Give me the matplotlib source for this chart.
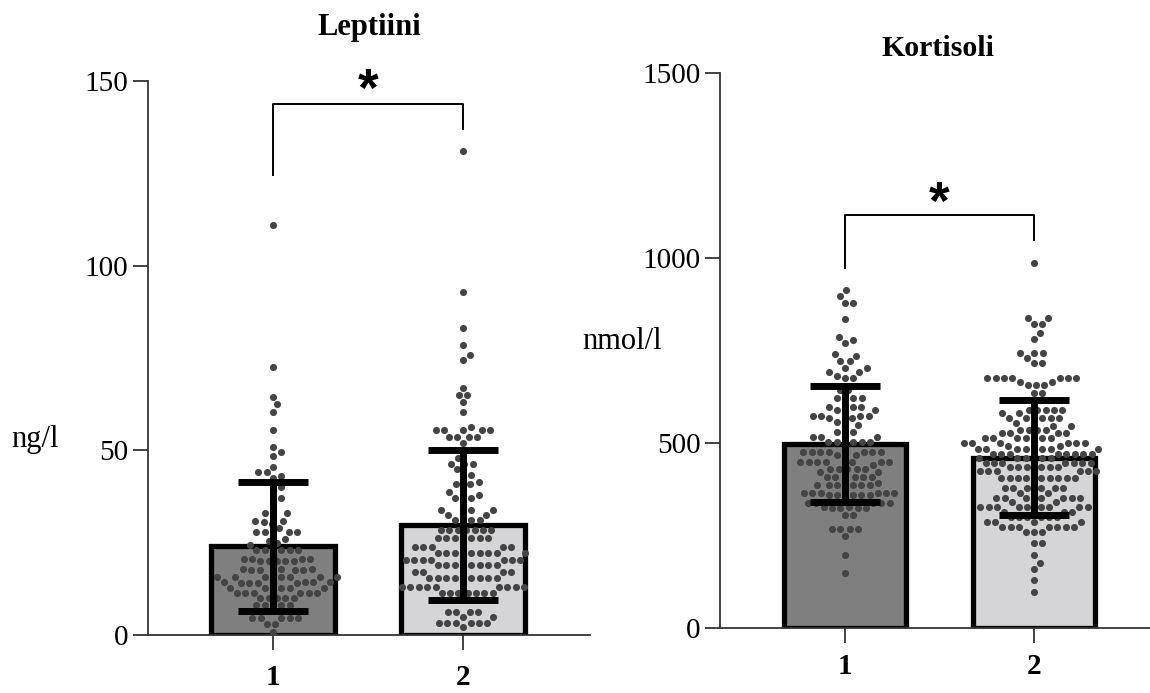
import numpy as np
import matplotlib
matplotlib.use("Agg")
import matplotlib.pyplot as plt

plt.rcParams['font.family'] = ['Liberation Serif', 'DejaVu Serif']

# ---- data ----
groups = ['1', '2']

lep_1 = [111, 72.5, 64.5, 62.5, 60.5, 55.5, 51, 49.5, 48.5, 45.5, 44, 44, 43, 42.5,
         40, 39, 37, 36, 33, 33, 33, 31, 31, 30.5, 30, 29, 28, 28, 28, 28, 27.5,
         26, 25.5, 25, 24.5,
         23, 23, 23, 23, 23, 23,
         20.5, 20.5, 20.5, 20.5, 20, 20, 20, 20, 20,
         18, 18, 18, 18, 17.5, 17.5, 17.5, 17.5,
         15.7, 15.7, 15.7, 15.7, 15.7, 15.7, 15.7, 15.7,
         14.3, 14.3, 14.3, 14.3, 14, 14, 14, 14,
         12.7, 12.7, 12.7, 12.7, 12.7, 12.7,
         11.4, 11.4, 11.4, 11.4, 11.4, 11.4,
         10, 10, 10, 10, 10,
         8, 8, 8, 8, 8,
         4.6, 4.6, 4.6, 4.6, 4.6,
         3, 3, 0.8]

lep_2 = [131, 93, 83, 78.5, 75.8, 74.5, 67, 65, 65, 63, 60.5,
         56.3, 55.5, 55.5, 55.5, 55.5, 55.5, 53.6, 53.6, 53.6, 53.6, 52,
         47.9, 46.3, 46.3, 46.3, 45, 43.3, 43.3, 41.4, 40.9, 40.9, 39.8, 38.7,
         37.9, 37.1, 37.1, 37.1, 33.8, 33.8, 33.8, 33.8, 32.5, 32.5,
         31.1, 31.1, 31.1, 31.1,
         28.4, 28.4, 28.4, 28.4, 28.4, 28.4, 28.4,
         26.3, 26.3, 26.3, 26.3, 26.3, 26.3, 26.3,
         23.8, 23.8, 23.8, 23.8, 23.8,
         22.2, 22.2, 22.2, 22.2, 22.2, 22.2, 22.2, 22.2, 22.2,
         20.3, 20.3, 20.3, 20.3, 20.3, 20.3, 20.3,
         19, 19, 19, 19, 19, 19, 19, 19,
         17, 17, 17, 17,
         15.4, 15.4, 15.4, 15.4, 15.4, 15.4, 15.4, 15.4, 15.4,
         13, 13, 13, 13, 13, 13, 13, 13, 13,
         11.4, 11.4, 11.4, 11.4, 11.4, 11.4, 11.4,
         9.5, 6.2, 6.2, 6.2, 6.2, 4.9, 4.9,
         3.2, 3.2, 3.2, 3.2, 3.2, 3.2, 2.2]

kor_1 = [913, 897, 878, 878, 835, 787, 778, 770, 740, 735, 722, 722, 703, 703,
         692, 692, 681, 676, 676, 643, 643, 622, 622, 622, 622,
         597, 597, 597, 589, 589, 589, 573, 573, 573, 573, 568, 568,
         557, 557, 549, 530, 530, 530, 516, 516, 516,
         503, 503, 503, 503, 503, 503,
         476, 476, 476, 476, 476, 476, 476, 468, 468, 468,
         449, 449, 449, 449, 449, 449, 449, 441,
         430, 430, 430, 430, 430, 422, 422,
         408, 408, 408, 408, 408, 408, 392,
         386, 386, 386, 386, 386, 386, 378,
         365, 365, 365, 365, 365, 365, 359, 359, 359, 359, 359, 351,
         338, 338, 338, 338, 338, 327, 327, 324, 324, 324, 324,
         305, 305, 268, 268, 268, 268, 249, 197, 149]

kor_2 = [986, 838, 838, 822, 822, 797, 781, 743, 743, 743, 730, 716, 716,
         676, 676, 676, 676, 676, 676, 676, 665, 665, 657, 657, 657, 635, 635,
         589, 589, 589, 589, 589, 581, 581,
         568, 568, 568, 568, 568, 568, 554, 546, 546,
         535, 535, 535, 535, 527, 527, 527, 527,
         514, 514, 514, 514, 514, 514, 514,
         500, 500, 500, 500, 500, 500, 492, 492,
         484, 484, 484, 484, 484, 484, 484, 484,
         470, 470, 470, 470, 470, 470, 470, 470,
         459, 459, 459, 459, 459, 459,
         446, 446, 446, 446, 446, 446, 446,
         435, 435, 435, 435, 435, 435,
         424, 424, 424, 424, 424, 424, 424,
         405, 405, 405, 405, 405, 405, 405, 405, 405, 395,
         378, 378, 378, 378, 378, 378, 365, 365, 365,
         351, 351, 351, 351, 351, 351, 351, 341, 341, 341,
         327, 327, 327, 327, 327, 327, 327, 327, 327,
         314, 314, 314, 314, 300, 300, 300, 300, 300, 300,
         286, 286, 286, 286, 273, 273, 273, 273, 273, 273, 273,
         259, 259, 259, 230, 230, 197, 176, 159, 130, 97]

lep_mean = [24, 29.8]
lep_sd = [17.5, 20.4]
kor_mean = [497, 460]
kor_sd = [157, 155]

bar_colors = ['#7f7f7f', '#d5d5d7']
dot_color = '#444444'


def swarm_offsets(ax, xc, values, dist=8.4):
    """simple beeswarm, works in pixel space, returns data x positions"""
    pts = ax.transData.transform(np.column_stack([np.full(len(values), xc), values]))
    x0 = pts[0, 0]
    ys = pts[:, 1]
    order = np.argsort(ys)
    placed = []
    xs = np.zeros(len(values))
    for i in order:
        y = ys[i]
        near = [(px, py) for px, py in placed if abs(py - y) < dist]
        cands = [0.0]
        for px, py in near:
            dx = np.sqrt(dist ** 2 - (py - y) ** 2)
            cands += [px + dx, px - dx]
        cands.sort(key=abs)
        for c in cands:
            if all((c - px) ** 2 + (y - py) ** 2 >= dist ** 2 - 1e-6 for px, py in near):
                xs[i] = c
                break
        placed.append((xs[i], y))
    inv = ax.transData.inverted()
    return inv.transform(np.column_stack([x0 + xs, ys]))[:, 0]


def draw_panel(ax, data, means, sds, ymax, yticks, xlim, xpad):
    ax.set_xlim(*xlim)
    ax.set_ylim(0, ymax)
    xpos = [1, 2]
    ax.bar(xpos, means, width=0.65, color=bar_colors, edgecolor='black',
           linewidth=3.8, zorder=2)
    for x, vals in zip(xpos, data):
        sx = swarm_offsets(ax, x, vals)
        ax.scatter(sx, vals, s=26, color=dot_color, linewidths=0, zorder=3,
                   clip_on=False)
    ax.errorbar(xpos, means, yerr=sds, fmt='none', ecolor='black', elinewidth=5,
                capsize=25, capthick=5, zorder=4)
    for side in ['top', 'right']:
        ax.spines[side].set_visible(False)
    for side in ['left', 'bottom']:
        ax.spines[side].set_linewidth(1.3)
        ax.spines[side].set_color('#333333')
    ax.set_yticks(yticks)
    ax.set_xticks(xpos)
    ax.set_xticklabels(groups, fontweight='bold', fontsize=21)
    ax.tick_params(axis='y', length=11, width=1.3, color='#333333', labelsize=21, pad=3)
    ax.tick_params(axis='x', length=11, width=1.3, color='#333333', pad=xpad)


fig = plt.figure(figsize=(11.5, 6.93), dpi=100)

ax1 = fig.add_axes([148 / 1150, 58 / 693, 442 / 1150, 554 / 693])
draw_panel(ax1, [lep_1, lep_2], lep_mean, lep_sd, 150, [0, 50, 100, 150],
           (0.342, 2.668), 10)

ax2 = fig.add_axes([720 / 1150, 65 / 693, 430 / 1150, 555 / 693])
draw_panel(ax2, [kor_1, kor_2], kor_mean, kor_sd, 1500, [0, 500, 1000, 1500],
           (0.339, 2.614), 7)

# significance brackets
ax1.plot([1, 1, 2, 2], [124.5, 143.8, 143.8, 137], color='black', lw=1.4, clip_on=False)
ax1.text(1.5, 147, '*', ha='center', va='center', fontsize=38, fontweight='bold',
         family=['Liberation Sans', 'DejaVu Sans'])
ax2.plot([1, 1, 2, 2], [973, 1116, 1116, 1049], color='black', lw=1.4, clip_on=False)
ax2.text(1.5, 1143, '*', ha='center', va='center', fontsize=38, fontweight='bold',
         family=['Liberation Sans', 'DejaVu Sans'])

fig.text(369 / 1150, 1 - 28 / 693, 'Leptiini', ha='center', va='center',
         fontsize=22, fontweight='bold')
fig.text(938 / 1150, 1 - 48 / 693, 'Kortisoli', ha='center', va='center',
         fontsize=21.5, fontweight='bold')
fig.text(35 / 1150, 1 - 440 / 693, 'ng/l', ha='center', va='center', fontsize=22)
fig.text(622 / 1150, 1 - 342 / 693, 'nmol/l', ha='center', va='center', fontsize=22)

fig.savefig('out.png', dpi=100)
